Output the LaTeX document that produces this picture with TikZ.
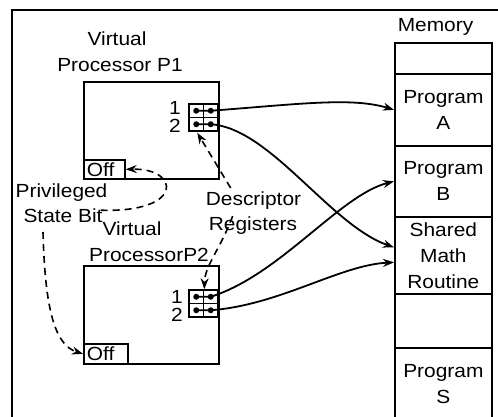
\documentclass[tikz,border=0pt]{standalone}
\usepackage{fontspec}
\setmainfont{Liberation Sans}[FakeStretch=1.1]
\usetikzlibrary{arrows.meta,calc}

\begin{document}
\begin{tikzpicture}[x=1pt,y=-1pt,
  txt/.style={font=\fontsize{19}{26}\selectfont, inner sep=0pt, anchor=base},
  procbox/.style={draw, line width=1.7pt, inner sep=0pt, anchor=north west},
  cell/.style={draw, line width=1.7pt, inner sep=0pt, minimum width=97pt,
    anchor=north west, font=\fontsize{19}{26}\selectfont, align=center},
  regcell/.style={draw, line width=1.5pt, inner sep=0pt,
    minimum width=14.5pt, minimum height=13.5pt},
  pin/.style={circle, fill, inner sep=0pt, minimum size=6pt},
  offbox/.style={draw, line width=1.7pt, anchor=north west, inner ysep=0pt,
    inner xsep=3pt, align=left, font=\fontsize{19}{22}\selectfont},
  link/.style={line width=1.8pt, -{Stealth[length=11pt,width=8pt]}},
  hint/.style={line width=1.6pt, dash pattern=on 7pt off 5pt,
    -{Stealth[length=11pt,width=8pt]}},
]
\useasboundingbox (0,0) rectangle (498,417);

% outer frame (open to the right and bottom)
\draw[line width=2.2pt] (12,420) -- (12,10) -- (500,10);

% ---------- memory column ----------
\node[txt] (mem) at (435.5,32) {Memory};
\node[cell, minimum height=31pt] (m0) at (394,42) {};
\node[cell, minimum height=72pt] (mA) at (394,73) {Program\\A};
\node[cell, minimum height=71pt] (mB) at (394,145) {Program\\B};
\node[cell, minimum height=77pt] (mS) at (394,216) {Shared\\Math\\Routine};
\node[cell, minimum height=54pt] (mE) at (394,293) {};
\node[cell, minimum height=72pt] (mP) at (394,347) {Program\\S};

% ---------- virtual processor P1 ----------
\node[txt] (vp1a) at (117,46) {Virtual};
\node[txt] (vp1b) at (120,72) {Processor P1};
\node[procbox, minimum width=135pt, minimum height=97pt] (p1) at (83,81) {};
\node[offbox, text width=35pt, minimum height=19pt] (off1) at (83,159) {Off};

\node[regcell] (r11) at (196.25,110.75) {};
\node[regcell] (r12) at (210.75,110.75) {};
\node[regcell] (r21) at (196.25,124.25) {};
\node[regcell] (r22) at (210.75,124.25) {};
\node[pin] (a11) at (r11) {};
\node[pin] (a12) at (r12) {};
\node[pin] (a21) at (r21) {};
\node[pin] (a22) at (r22) {};
\node[txt, anchor=base east] (n11) at (181,115) {1};
\node[txt, anchor=base east] (n12) at (181,133) {2};

% ---------- virtual processor P2 ----------
\node[txt] (vp2a) at (132,235) {Virtual};
\node[txt] (vp2b) at (149,261) {ProcessorP2};
\node[procbox, minimum width=135pt, minimum height=98pt] (p2) at (83,265) {};
\node[offbox, text width=38pt, minimum height=20pt] (off2) at (83,343) {Off};

\node[regcell] (s11) at (196.25,296.75) {};
\node[regcell] (s12) at (210.75,296.75) {};
\node[regcell] (s21) at (196.25,310.25) {};
\node[regcell] (s22) at (210.75,310.25) {};
\node[pin] (b11) at (s11) {};
\node[pin] (b12) at (s12) {};
\node[pin] (b21) at (s21) {};
\node[pin] (b22) at (s22) {};
\node[txt, anchor=base east] (n21) at (183,303) {1};
\node[txt, anchor=base east] (n22) at (183,321) {2};

% ---------- annotations ----------
\node[txt] (priv) at (61.5,197) {Privileged};
\node[txt] (sb) at (63,222) {State Bit};
\node[txt] (desc) at (253.5,205) {Descriptor};
\node[txt] (regs) at (253,230) {Registers};
\coordinate (sbfoot) at (43,232);

% ---------- descriptor links to memory ----------
\draw[link] (a11.center) -- (a12.center)
  .. controls (300,104) and (352,97) .. (mA.west);
\draw[link] (a21.center) -- (a22.center)
  .. controls (270,128) and (330,225) .. ($(mS.west)+(0,-8)$);
\draw[link] (b11.center) -- (b12.center)
  .. controls (280,275) and (340,195) .. (mB.west);
\draw[link] (b21.center) -- (b22.center)
  .. controls (280,305) and (340,265) .. ($(mS.west)+(0,7)$);

% ---------- dashed callouts ----------
\draw[hint] ($(sb.east)+(-2,-5)$) .. controls (185,213) and (180,168) .. (off1.east);
\draw[hint] (sbfoot) .. controls (45,310) and (55,345) .. (off2.west);
\draw[hint] ($(desc.north west)+(25,-3)$) -- ($(r21.south)+(1,1)$);
\draw[hint] ($(regs.north west)+(24,0)$) .. controls (220,250) and (205,265) .. (s11.north east);
\end{tikzpicture}
\end{document}
